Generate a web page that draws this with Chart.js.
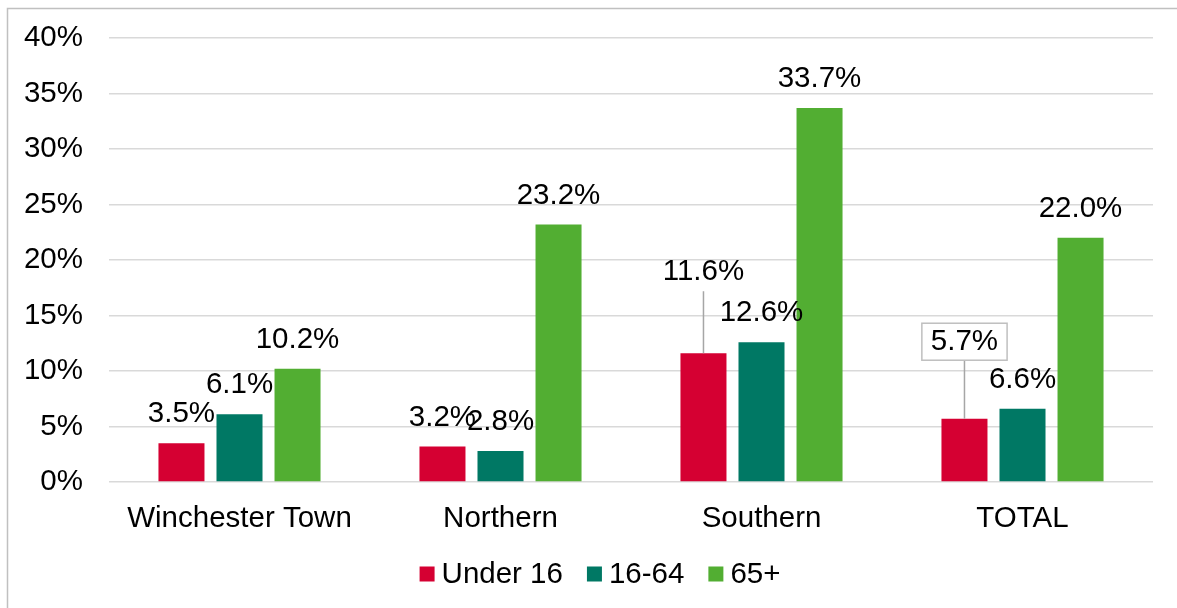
<!DOCTYPE html>
<html>
<head>
<meta charset="utf-8">
<script src="https://cdn.jsdelivr.net/npm/chart.js@4.4.1/dist/chart.umd.min.js"></script>
<style>
  html, body { margin: 0; padding: 0; background: #fff; }
  #wrap { width: 1177px; height: 608px; position: relative; }
</style>
</head>
<body>
<div id="wrap"><canvas id="ageChart" width="1177" height="608"></canvas></div>
<script>
// Chart data
const regions = ['Winchester Town', 'Northern', 'Southern', 'TOTAL'];
const under16 = [3.5, 3.2, 11.6, 5.7];
const age16to64 = [6.1, 2.8, 12.6, 6.6];
const age65plus = [10.2, 23.2, 33.7, 22.0];
const yTicks = [0, 5, 10, 15, 20, 25, 30, 35, 40];

const FONT = "'Liberation Sans', Arial, sans-serif";
const FONT_SIZE = 29.5;

// labels that sit higher than normal, joined to the bar by a leader line
const callouts = {
    '0-2': { lift: 52, box: false },
    '0-3': { lift: 48, box: true }
};

const frameAndLabels = {
    id: 'frameAndLabels',
    beforeDraw(chart) {
        const ctx = chart.ctx;
        ctx.save();
        ctx.fillStyle = '#fff';
        ctx.fillRect(0, 0, chart.width, chart.height);
        ctx.strokeStyle = '#c0c0c0';
        ctx.lineWidth = 1.5;
        ctx.beginPath();
        ctx.moveTo(7.5, chart.height + 2);
        ctx.lineTo(7.5, 8.5);
        ctx.lineTo(chart.width + 2, 8.5);
        ctx.stroke();
        ctx.restore();
    },
    afterDatasetsDraw(chart) {
        const ctx = chart.ctx;
        ctx.save();
        ctx.font = FONT_SIZE + 'px ' + FONT;
        ctx.textAlign = 'center';
        ctx.textBaseline = 'middle';
        chart.data.datasets.forEach((ds, di) => {
            const meta = chart.getDatasetMeta(di);
            meta.data.forEach((bar, i) => {
                const text = ds.data[i].toFixed(1) + '%';
                const c = callouts[di + '-' + i];
                let y = bar.y - 29;
                if (c) {
                    y = bar.y - 29 - c.lift;
                    const w = ctx.measureText(text).width;
                    const lineTop = c.box ? y + 18.5 : y + 19;
                    ctx.strokeStyle = '#a6a6a6';
                    ctx.lineWidth = 1.5;
                    ctx.beginPath();
                    ctx.moveTo(bar.x, bar.y);
                    ctx.lineTo(bar.x, lineTop);
                    ctx.stroke();
                    if (c.box) {
                        ctx.fillStyle = '#fff';
                        ctx.fillRect(bar.x - w / 2 - 9, y - 18.5, w + 18, 37);
                        ctx.strokeStyle = '#bfbfbf';
                        ctx.strokeRect(bar.x - w / 2 - 9, y - 18.5, w + 18, 37);
                    }
                }
                ctx.fillStyle = '#000';
                ctx.fillText(text, bar.x, y);
            });
        });
        ctx.restore();
    },
    afterDraw(chart) {
        // legend under the axis
        const ctx = chart.ctx;
        ctx.save();
        ctx.font = FONT_SIZE + 'px ' + FONT;
        ctx.textBaseline = 'middle';
        ctx.textAlign = 'left';
        const box = 15, gapText = 7, gapItem = 24;
        const items = chart.data.datasets.map(ds => ({
            label: ds.label, color: ds.backgroundColor, w: ctx.measureText(ds.label).width
        }));
        let total = 0;
        items.forEach((it, k) => {
            total += box + gapText + it.w + (k < items.length - 1 ? gapItem : 0);
        });
        let x = 600 - total / 2;
        const cy = 574;
        items.forEach(it => {
            ctx.fillStyle = it.color;
            ctx.fillRect(x, cy - box / 2, box, box);
            ctx.fillStyle = '#000';
            ctx.fillText(it.label, x + box + gapText, cy + 1);
            x += box + gapText + it.w + gapItem;
        });
        ctx.restore();
    }
};

new Chart(document.getElementById('ageChart'), {
    type: 'bar',
    data: {
        labels: regions,
        datasets: [
            { label: 'Under 16', data: under16, backgroundColor: '#D50032' },
            { label: '16-64', data: age16to64, backgroundColor: '#007864' },
            { label: '65+', data: age65plus, backgroundColor: '#52AE32' }
        ]
    },
    options: {
        responsive: false,
        devicePixelRatio: 1,
        animation: false,
        categoryPercentage: 0.667,
        barPercentage: 0.793,
        layout: { padding: { top: 38, right: 24, bottom: 0, left: 0 } },
        plugins: {
            legend: { display: false },
            tooltip: { enabled: false }
        },
        scales: {
            x: {
                grid: { display: false },
                border: { display: false },
                ticks: { color: '#000', font: { family: FONT, size: FONT_SIZE }, padding: 11, maxRotation: 0 },
                afterFit: scale => { scale.height = 126; }
            },
            y: {
                min: 0,
                max: 40,
                afterBuildTicks: scale => { scale.ticks = yTicks.map(v => ({ value: v })); },
                grid: { color: '#d9d9d9', lineWidth: 1.5, drawTicks: false },
                border: { display: false },
                ticks: {
                    color: '#000',
                    font: { family: FONT, size: FONT_SIZE },
                    padding: 26,
                    callback: v => v + '%'
                },
                afterFit: scale => {
                    scale.width = 109;
                    scale.paddingTop = 0;
                    scale.paddingBottom = 0;
                }
            }
        }
    },
    plugins: [frameAndLabels]
});
</script>
</body>
</html>
